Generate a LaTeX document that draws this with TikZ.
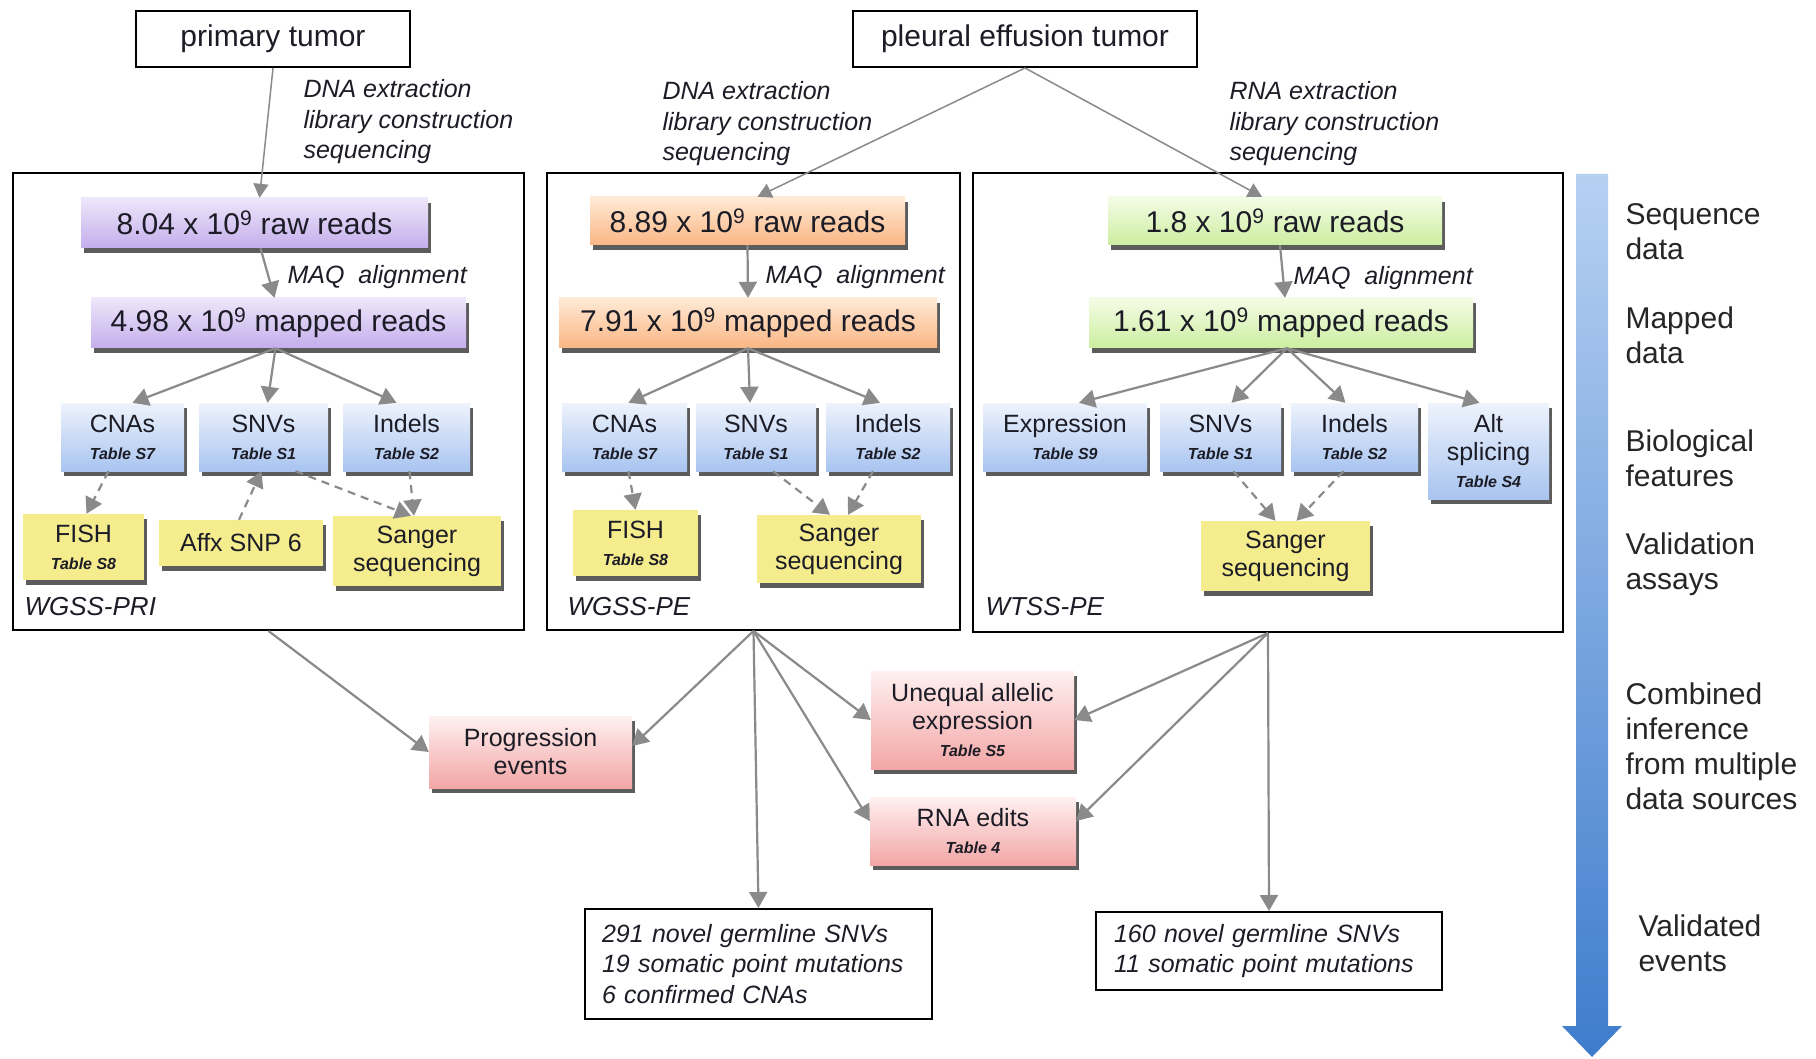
\documentclass[tikz,border=0pt]{standalone}
\usepackage{fontspec}
\setmainfont{Liberation Sans}
\usetikzlibrary{arrows.meta,shadows,calc}

\definecolor{txt}{RGB}{28,28,38}
\definecolor{conn}{RGB}{138,138,138}
\definecolor{pT}{RGB}{238,230,250}
\definecolor{pB}{RGB}{196,174,236}
\definecolor{oT}{RGB}{255,234,214}
\definecolor{oB}{RGB}{250,182,132}
\definecolor{gT}{RGB}{244,252,230}
\definecolor{gB}{RGB}{204,238,160}
\definecolor{bT}{RGB}{238,243,252}
\definecolor{bB}{RGB}{168,196,240}
\definecolor{yF}{RGB}{245,236,142}
\definecolor{rT}{RGB}{255,240,240}
\definecolor{rB}{RGB}{243,166,166}
\definecolor{arT}{RGB}{182,208,242}
\definecolor{arB}{RGB}{62,124,204}

\newcommand{\tbl}[1]{{\fontsize{16}{17}\selectfont\bfseries\itshape #1}}
\newcommand{\tenN}{10\textsuperscript{9}}

\begin{document}
\begin{tikzpicture}[x=1pt,y=-1pt,
  every node/.style={text=txt},
  big/.style={font=\fontsize{30}{35}\selectfont},
  med/.style={font=\fontsize{25}{30}\selectfont},
  emph/.style={font=\fontsize{25}{30.5}\selectfont\itshape},
  frame/.style={draw=black, line width=2pt, fill=white, inner sep=0pt},
  colbox/.style={inner sep=0pt, align=center,
    drop shadow={shadow xshift=3pt,shadow yshift=-5pt,fill=black!85,opacity=.75}},
  purp/.style={colbox, big, top color=pT, bottom color=pB},
  oran/.style={colbox, big, top color=oT, bottom color=oB},
  gren/.style={colbox, big, top color=gT, bottom color=gB},
  feat/.style={colbox, med, top color=bT, bottom color=bB, minimum height=68pt},
  yell/.style={colbox, med, fill=yF},
  pink/.style={colbox, med, top color=rT, bottom color=rB},
  arr/.style={draw=conn, line width=2.2pt, -{Triangle[length=16pt,width=18pt]}},
  thinarr/.style={draw=conn, line width=1.5pt, -{Triangle[length=14pt,width=15pt]}},
  darr/.style={arr, dash pattern=on 8pt off 6pt},
  rlab/.style={big, align=left, anchor=west, text=black!85},
]
\useasboundingbox (0,0) rectangle (1816,1059);
\fill[white] (0,0) rectangle (1816,1059);

% group frames
\node[frame, minimum width=511pt, minimum height=457pt] (gA) at (268.5,401.5) {};
\node[frame, minimum width=413pt, minimum height=457pt] (gB) at (753.5,401.5) {};
\node[frame, minimum width=590pt, minimum height=459pt] (gC) at (1268,402.5) {};
\node[emph, font=\fontsize{26}{30}\selectfont\itshape, anchor=west] (lgA) at (21,607) {WGSS-PRI};
\node[emph, font=\fontsize{26}{30}\selectfont\itshape, anchor=west] (lgB) at (564,607) {WGSS-PE};
\node[emph, font=\fontsize{26}{30}\selectfont\itshape, anchor=west] (lgC) at (982,607) {WTSS-PE};

% tumors
\node[frame, big, minimum width=274pt, minimum height=56pt] (tumorA) at (273,39) {primary tumor};
\node[frame, big, minimum width=344pt, minimum height=56pt] (tumorB) at (1025,39) {pleural effusion tumor};

% edge labels
\node[emph, align=left, anchor=west] (eA) at (300,122) {DNA extraction\\library construction\\sequencing};
\node[emph, align=left, anchor=west] (eB) at (659,124) {DNA extraction\\library construction\\sequencing};
\node[emph, align=left, anchor=west] (eC) at (1226,124) {RNA extraction\\library construction\\sequencing};

% WGSS-PRI
\node[purp, minimum width=347pt, minimum height=50pt] (rawA) at (254.5,223) {8.04 x \tenN\ raw reads};
\node[purp, minimum width=375pt, minimum height=50pt] (mapA) at (278.5,323) {4.98 x \tenN\ mapped reads};
\node[emph, anchor=west] (maqA) at (284,277) {MAQ\ \ alignment};
\node[feat, minimum width=123pt] (cnaA) at (122.5,437) {CNAs\\[-3pt]\tbl{Table S7}};
\node[feat, minimum width=129pt] (snvA) at (263.5,437) {SNVs\\[-3pt]\tbl{Table S1}};
\node[feat, minimum width=127pt] (indA) at (406.5,437) {Indels\\[-3pt]\tbl{Table S2}};
\node[yell, minimum width=121pt, minimum height=66pt] (fishA) at (83.5,547) {FISH\\[-3pt]\tbl{Table S8}};
\node[yell, minimum width=164pt, minimum height=46pt] (affx) at (241,543) {Affx SNP 6};
\node[yell, minimum width=168pt, minimum height=70pt] (sangA) at (417,551) {Sanger\\[-2pt]sequencing};

% WGSS-PE
\node[oran, minimum width=315pt, minimum height=48pt] (rawB) at (747.5,221) {8.89 x \tenN\ raw reads};
\node[oran, minimum width=378pt, minimum height=50pt] (mapB) at (748,323) {7.91 x \tenN\ mapped reads};
\node[emph, anchor=west] (maqB) at (762,277) {MAQ\ \ alignment};
\node[feat, minimum width=125pt] (cnaB) at (624.5,437) {CNAs\\[-3pt]\tbl{Table S7}};
\node[feat, minimum width=120pt] (snvB) at (756,437) {SNVs\\[-3pt]\tbl{Table S1}};
\node[feat, minimum width=124pt] (indB) at (888,437) {Indels\\[-3pt]\tbl{Table S2}};
\node[yell, minimum width=125pt, minimum height=66pt] (fishB) at (635.5,543) {FISH\\[-3pt]\tbl{Table S8}};
\node[yell, minimum width=164pt, minimum height=68pt] (sangB) at (839,549) {Sanger\\[-2pt]sequencing};

% WTSS-PE
\node[gren, minimum width=334pt, minimum height=48pt] (rawC) at (1275,221) {1.8 x \tenN\ raw reads};
\node[gren, minimum width=384pt, minimum height=50pt] (mapC) at (1281,323) {1.61 x \tenN\ mapped reads};
\node[emph, anchor=west] (maqC) at (1290,278) {MAQ\ \ alignment};
\node[feat, minimum width=164pt] (expC) at (1065,437) {Expression\\[-3pt]\tbl{Table S9}};
\node[feat, minimum width=121pt] (snvC) at (1220.5,437) {SNVs\\[-3pt]\tbl{Table S1}};
\node[feat, minimum width=127pt] (indC) at (1354.5,437) {Indels\\[-3pt]\tbl{Table S2}};
\node[feat, minimum width=121pt, minimum height=96pt] (altC) at (1488.5,451) {Alt\\[-2pt]splicing\\[-3pt]\tbl{Table S4}};
\node[yell, minimum width=169pt, minimum height=70pt] (sangC) at (1285.5,556) {Sanger\\[-2pt]sequencing};

% combined inference
\node[pink, minimum width=203pt, minimum height=72pt] (prog) at (530.5,752) {Progression\\[-2pt]events};
\node[pink, minimum width=203pt, minimum height=98pt] (uneq) at (972.5,720) {Unequal allelic\\[-2pt]expression\\[-3pt]\tbl{Table S5}};
\node[pink, minimum width=206pt, minimum height=68pt] (rna) at (973,831) {RNA edits\\[-3pt]\tbl{Table 4}};

% validated events
\node[frame, emph, align=left, inner xsep=17pt, text width=313pt, minimum height=110pt] (box291) at (758.5,964)
  {291 novel germline SNVs\\19 somatic point mutations\\6 confirmed CNAs};
\node[frame, emph, align=left, inner xsep=18pt, text width=310pt, minimum height=78pt] (box160) at (1269,951)
  {160 novel germline SNVs\\11 somatic point mutations};

% connectors: tumors
\draw[thinarr] (tumorA.south) -- ([xshift=5pt]rawA.north);
\draw[thinarr] (tumorB.south) -- ([xshift=10pt]rawB.north);
\draw[thinarr] (tumorB.south) -- ([xshift=-13pt]rawC.north);

% raw -> mapped
\draw[arr] ([xshift=6pt]rawA.south) -- ([xshift=-4pt]mapA.north);
\draw[arr] (rawB.south) -- (mapB.north);
\draw[arr] ([xshift=5pt]rawC.south) -- ([xshift=4pt]mapC.north);

% mapped -> features
\draw[arr] ([xshift=-3pt]mapA.south) -- ([xshift=10pt]cnaA.north);
\draw[arr] ([xshift=-3pt]mapA.south) -- ([xshift=4pt]snvA.north);
\draw[arr] ([xshift=-3pt]mapA.south) -- ([xshift=-10pt]indA.north);
\draw[arr] (mapB.south) -- ([xshift=4pt]cnaB.north);
\draw[arr] (mapB.south) -- ([xshift=-6pt]snvB.north);
\draw[arr] (mapB.south) -- ([xshift=-8pt]indB.north);
\draw[arr] ([xshift=6pt]mapC.south) -- ([xshift=14pt]expC.north);
\draw[arr] ([xshift=6pt]mapC.south) -- ([xshift=11pt]snvC.north);
\draw[arr] ([xshift=6pt]mapC.south) -- ([xshift=-9pt]indC.north);
\draw[arr] ([xshift=6pt]mapC.south) -- ([xshift=-9pt]altC.north);

% validation (dashed)
\draw[darr] ([xshift=-14pt]cnaA.south) -- ([xshift=3pt]fishA.north);
\draw[darr] ([xshift=-2pt]affx.north) -- ([xshift=-2pt]snvA.south);
\draw[darr] ([xshift=32pt]snvA.south) -- ([xshift=-6pt]sangA.north);
\draw[darr] ([xshift=3pt]indA.south) -- ([xshift=-3pt]sangA.north);
\draw[darr] ([xshift=4pt]cnaB.south) -- (fishB.north);
\draw[darr] ([xshift=17pt]snvB.south) -- ([xshift=-9pt]sangB.north);
\draw[darr] ([xshift=-15pt]indB.south) -- ([xshift=9pt]sangB.north);
\draw[darr] ([xshift=13pt]snvC.south) -- ([xshift=-10pt]sangC.north);
\draw[darr] ([xshift=-11pt]indC.south) -- ([xshift=11pt]sangC.north);

% combined inference
\draw[arr] (gA.south) -- (prog.west);
\draw[arr] (gB.south) -- ([yshift=6pt]prog.east);
\draw[arr] (gB.south) -- (uneq.west);
\draw[arr] (gB.south) -- ([yshift=10pt]rna.west);
\draw[arr] (gB.south) -- (box291.north);
\draw[arr] (gC.south) -- (uneq.east);
\draw[arr] (gC.south) -- ([yshift=10pt]rna.east);
\draw[arr] (gC.south) -- (box160.north);

% big blue arrow
\shade[top color=arT, bottom color=arB]
  (1576,174) -- (1608,174) -- (1608,1026) -- (1622,1026) -- (1592,1057)
  -- (1562,1026) -- (1576,1026) -- cycle;

% right labels
\node[rlab] (sA) at (1622,231.5) {Sequence\\data};
\node[rlab] (sB) at (1622,335.5) {Mapped\\data};
\node[rlab] (sC) at (1622,458.5) {Biological\\features};
\node[rlab] (sD) at (1622,564.5) {Validation\\assays};
\node[rlab] (sE) at (1622,746.5) {Combined\\inference\\from multiple\\data sources};
\node[rlab] (sF) at (1635,943.5) {Validated\\events};
\end{tikzpicture}
\end{document}
